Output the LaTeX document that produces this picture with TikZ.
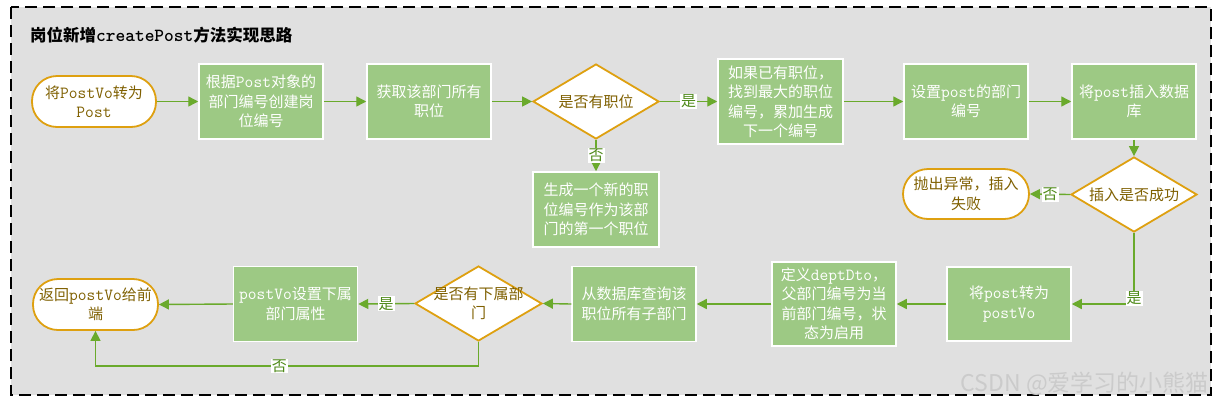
\documentclass[tikz,border=0pt]{standalone}
\usepackage{fontspec}
\setmainfont{Noto Sans CJK SC}
\usetikzlibrary{shapes.geometric,arrows.meta}
\definecolor{bg}{HTML}{E0E0E0}
\definecolor{boxg}{HTML}{9DC984}
\definecolor{lineg}{HTML}{6AAA2C}
\definecolor{orng}{HTML}{DEA010}
\definecolor{brwn}{HTML}{7F6000}
\definecolor{lblg}{HTML}{4F8A1A}
\definecolor{wmark}{HTML}{CBCBCB}
\newcommand\lat[1]{{\ttfamily\fontsize{17}{19.5}\selectfont #1}}
\newcommand\latt[1]{{\ttfamily\bfseries\fontsize{18.5}{19.5}\selectfont #1}}
\tikzset{
  txt/.style={font=\fontsize{15}{19.5}\selectfont, align=center},
  box/.style={txt, rectangle, fill=boxg, draw=white, line width=1.5pt,
    minimum width=124pt, minimum height=75pt, text=white, inner sep=1pt},
  term/.style={txt, rectangle, rounded corners=25pt, fill=white, draw=orng,
    line width=1.8pt, minimum width=124pt, minimum height=51pt, text=brwn, inner sep=1pt},
  dia/.style={diamond, fill=white, draw=orng, line width=1.8pt,
    minimum width=126pt, minimum height=75pt, inner sep=0pt, aspect=1.68},
  dtext/.style={txt, text=brwn, inner sep=0pt},
  arr/.style={draw=lineg, line width=1.4pt, -{Triangle[length=10pt,width=10pt]}},
  lbl/.style={fill=white, text=lblg, inner sep=1pt, font=\fontsize{15}{16}\selectfont}
}
\begin{document}
\begin{tikzpicture}[x=1pt,y=-1pt]
\useasboundingbox (0,0) rectangle (1225,405);
\fill[white] (0,0) rectangle (1225,405);
\fill[bg] (11,7) rectangle (1211,395);
\draw[black, line width=2pt, dash pattern=on 12pt off 6pt] (11,7) rectangle (1211,395);

\node (title) [anchor=west, font=\bfseries\fontsize{16.5}{19}\selectfont, inner sep=0pt] at (30,35)
  {岗位新增\latt{createPost}方法实现思路};

\node (t1) [term] at (94,101.5) {将\lat{PostVo}转为\\\lat{Post}};
\node (b2) [box] at (261,101.5) {根据\lat{Post}对象的\\部门编号创建岗\\位编号};
\node (b3) [box] at (429,101.5) {获取该部门所有\\职位};
\node (d4) [dia, label={[dtext]center:{是否有职位}}] at (596,101.5) {};
\node (b5) [box, minimum width=125pt, minimum height=85pt] at (780.5,101.5)
  {如果已有职位，\\找到最大的职位\\编号，累加生成\\下一个编号};
\node (b6) [box, minimum width=126pt] at (596,209.5) {生成一个新的职\\位编号作为该部\\门的第一个职位};
\node (b7) [box] at (966,101.5) {设置\lat{post}的部门\\编号};
\node (b8) [box] at (1134,101.5) {将\lat{post}插入数据\\库};
\node (d9) [dia, label={[dtext]center:{插入是否成功}}] at (1134,194.5) {};
\node (t10) [term, minimum width=126pt, minimum height=50pt] at (966,194) {抛出异常，插入\\失败};
\node (b11) [box, minimum height=74pt] at (1009,304) {将\lat{post}转为\\\lat{postVo}};
\node (b12) [box, minimum height=84pt] at (834,304) {定义\lat{deptDto}，\\父部门编号为当\\前部门编号，状\\态为启用};
\node (b13) [box] at (634,304) {从数据库查询该\\职位所有子部门};
\node (d14) [dia, minimum width=127pt, label={[dtext]center:{是否有下属部\\门}}] at (478.5,303.5) {};
\node (b15) [box] at (295.5,304) {\lat{postVo}设置下属\\部门属性};
\node (t16) [term, minimum width=125pt] at (95.5,304.5) {返回\lat{postVo}给前\\端};

\coordinate (c1) at (478.5,366);

\draw[arr] (t1.east) -- (b2.west);
\draw[arr] (b2.east) -- (b3.west);
\draw[arr] (b3.east) -- (d4.west);
\draw[arr] (d4.east) -- node[lbl] (l1) {是} (b5.west);
\draw[arr] (d4.south) -- node[lbl] (l2) {否} (b6.north);
\draw[arr] (b5.east) -- (b7.west);
\draw[arr] (b7.east) -- (b8.west);
\draw[arr] (b8.south) -- (d9.north);
\draw[arr] (d9.west) -- node[lbl] (l3) {否} (t10.east);
\draw[arr] (d9.south) |- node[lbl, pos=0.46] (l4) {是} (b11.east);
\draw[arr] (b11.west) -- (b12.east);
\draw[arr] (b12.west) -- (b13.east);
\draw[arr] (b13.west) -- (d14.east);
\draw[arr] (d14.west) -- node[lbl] (l5) {是} (b15.east);
\draw[arr] (b15.west) -- (t16.east);
\draw[arr] (d14.south) -- (c1) -| node[lbl, pos=0.26] (l6) {否} (t16.south);

\node (wm) [anchor=east, text=wmark, font=\fontsize{23}{23}\selectfont, inner sep=0pt] at (1209,384)
  {CSDN @爱学习的小熊猫};
\end{tikzpicture}
\end{document}
